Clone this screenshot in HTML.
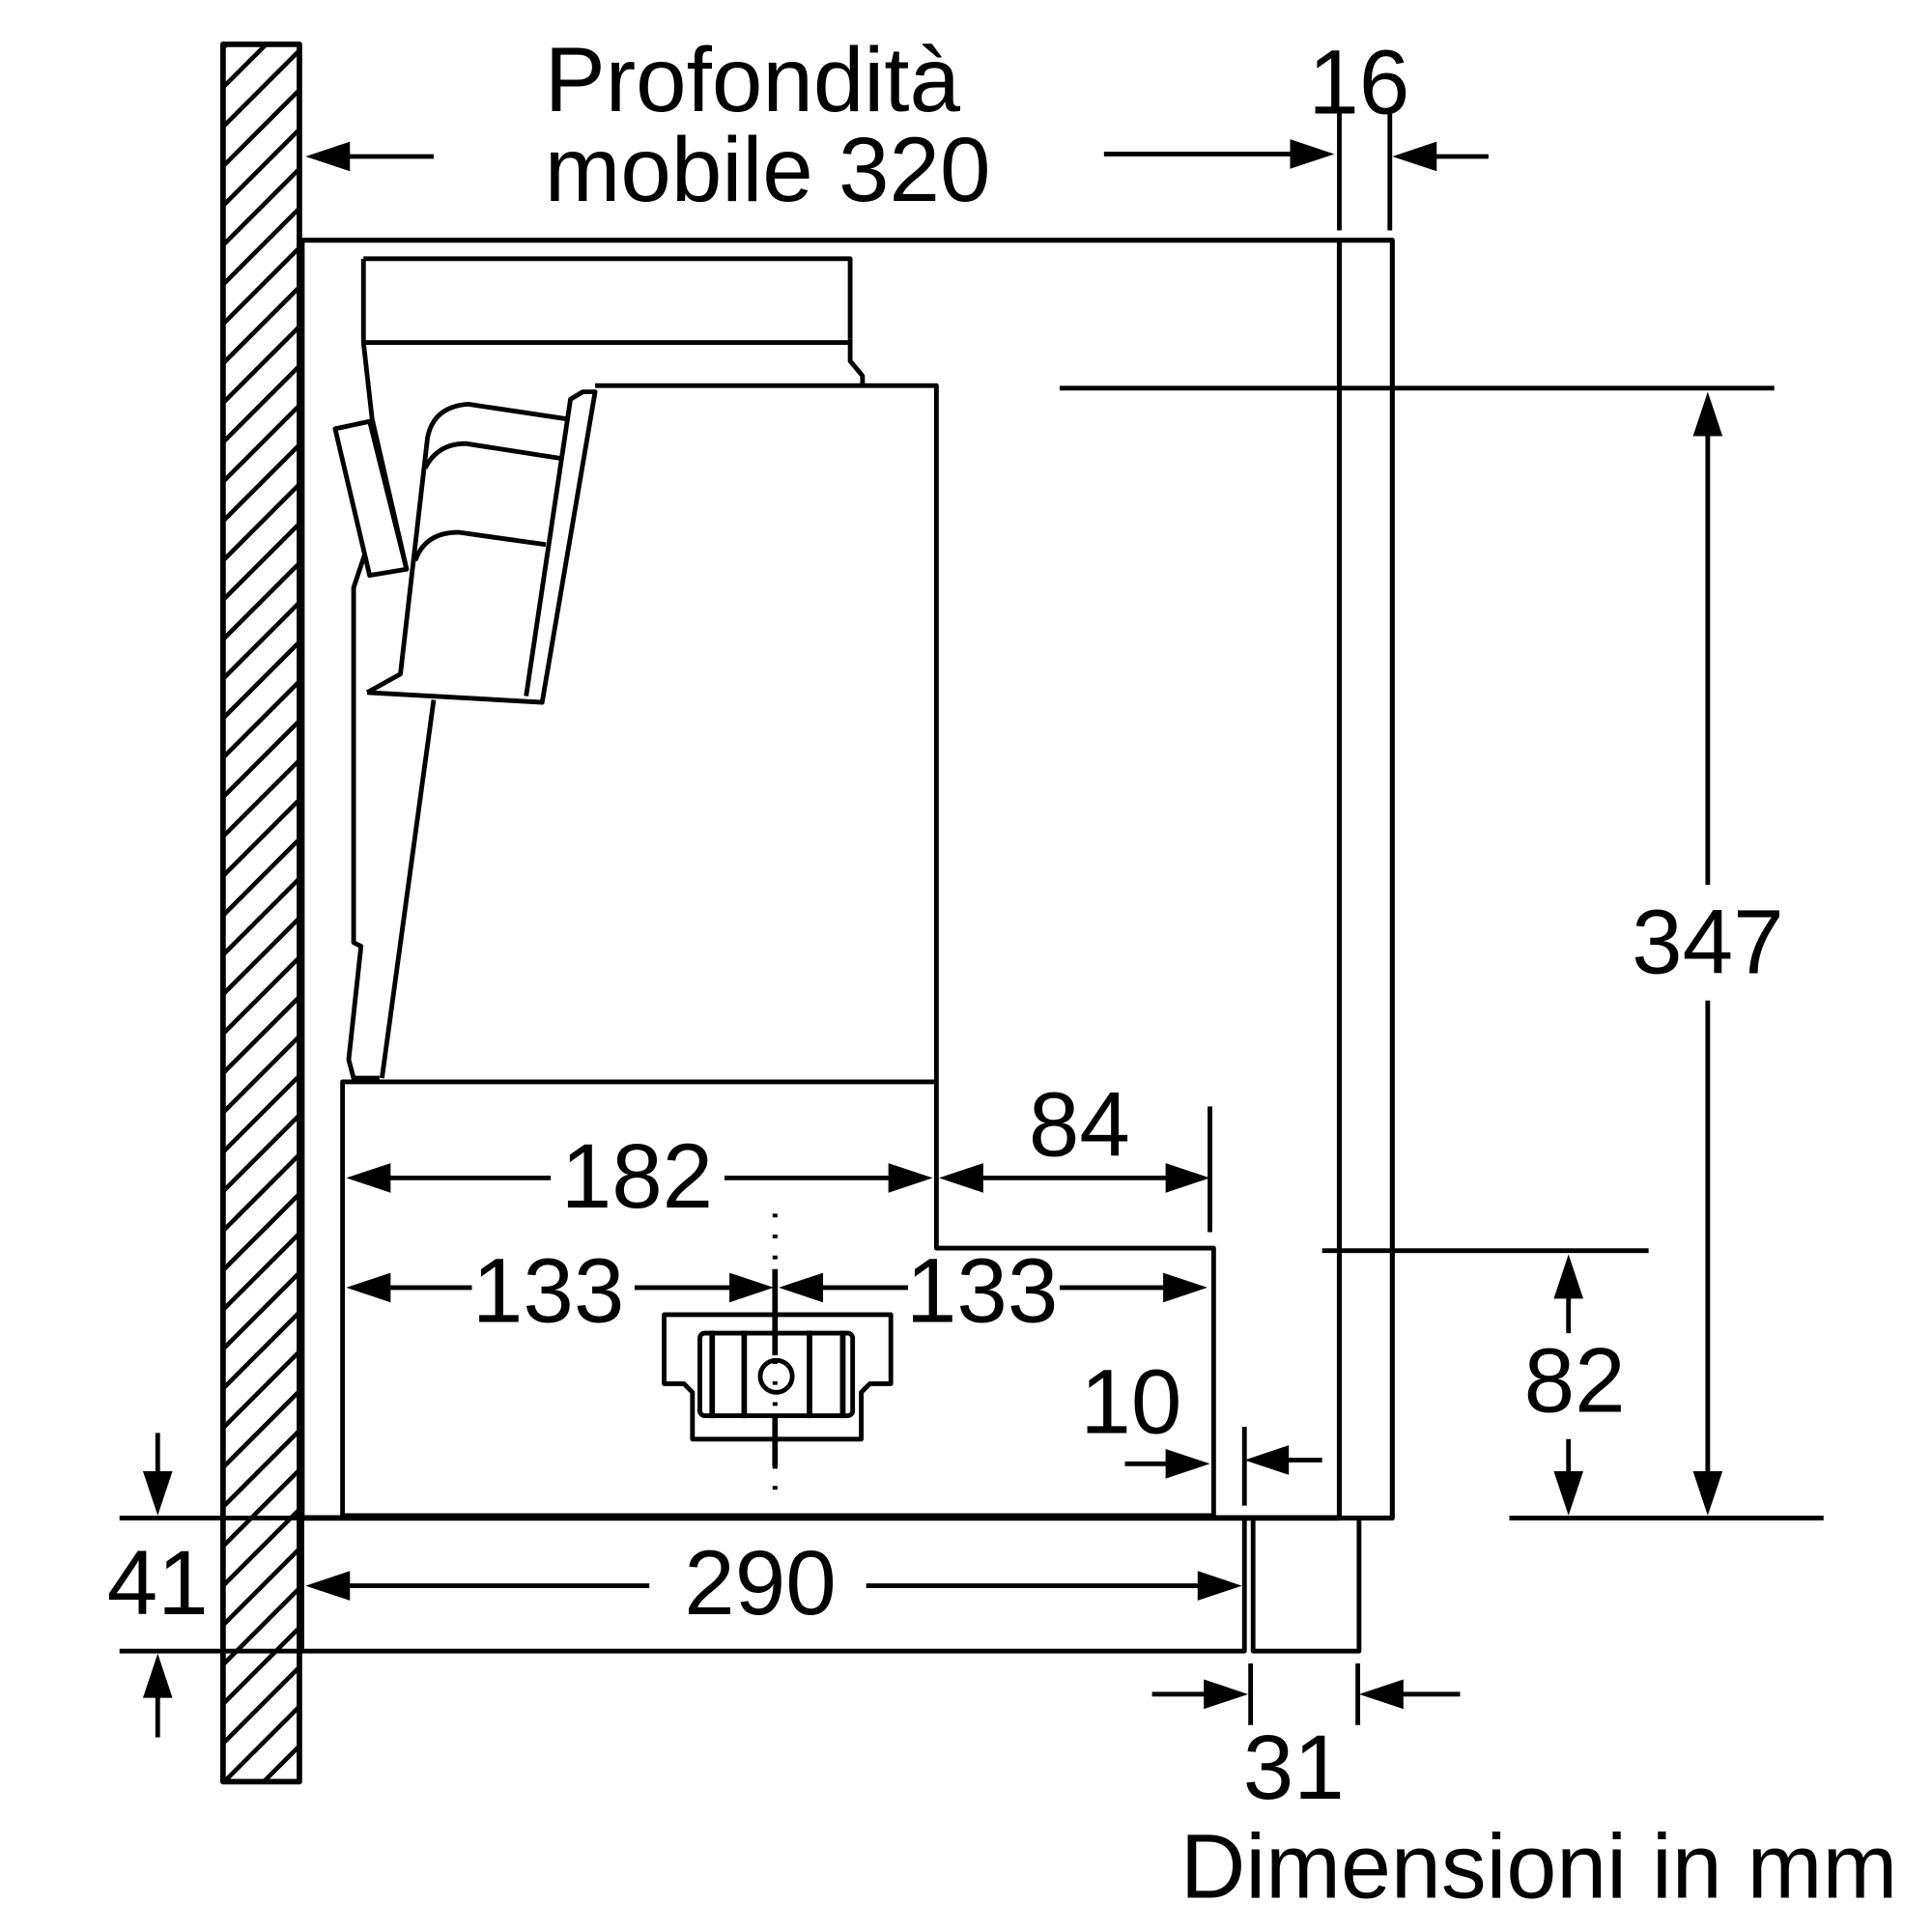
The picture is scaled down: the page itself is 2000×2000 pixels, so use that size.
<!DOCTYPE html>
<html><head><meta charset="utf-8"><style>html,body{margin:0;padding:0;background:#fff}svg{display:block}</style></head>
<body>
<svg width="2000" height="2000" viewBox="0 0 1568 1568" xmlns="http://www.w3.org/2000/svg">
<defs>
<clipPath id="wc"><rect x="183" y="38" width="58" height="1406"/></clipPath>
</defs>
<g stroke="#000" stroke-width="3.6" clip-path="url(#wc)">
<path d="M150,70 L260,-40 M150,102 L260,-8 M150,134 L260,24 M150,166 L260,56 M150,198 L260,88 M150,230 L260,120 M150,262 L260,152 M150,294 L260,184 M150,326 L260,216 M150,358 L260,248 M150,390 L260,280 M150,422 L260,312 M150,454 L260,344 M150,486 L260,376 M150,518 L260,408 M150,550 L260,440 M150,582 L260,472 M150,614 L260,504 M150,646 L260,536 M150,678 L260,568 M150,710 L260,600 M150,742 L260,632 M150,774 L260,664 M150,806 L260,696 M150,838 L260,728 M150,870 L260,760 M150,902 L260,792 M150,934 L260,824 M150,966 L260,856 M150,998 L260,888 M150,1030 L260,920 M150,1062 L260,952 M150,1094 L260,984 M150,1126 L260,1016 M150,1158 L260,1048 M150,1190 L260,1080 M150,1222 L260,1112 M150,1254 L260,1144 M150,1286 L260,1176 M150,1318 L260,1208 M150,1350 L260,1240 M150,1382 L260,1272 M150,1414 L260,1304 M150,1446 L260,1336 M150,1478 L260,1368 M150,1510 L260,1400 M150,1542 L260,1432"/>
</g>
<g fill="none" stroke="#000" stroke-width="3.8" stroke-linejoin="round">
<rect x="181" y="36" width="62" height="1410" stroke-width="4.5"/>
<path d="M245,195 H1130 V1232 H1087 V195" stroke-width="4"/>
<path d="M245,195 V1232 H1087" stroke-width="4.5"/>
<rect x="245" y="1232" width="765" height="108"/>
<rect x="1017" y="1232" width="86" height="108"/>
<path d="M295,210 H690 V275 M295,210 V278 H690"/>
<path d="M690,275 V293 L700,305 V313"/>
<path d="M483,313 H760 V1013 H985 V1230 H278 V878 H760"/>
<path d="M295,278 L302,340 L330,462"/>
<path d="M272,348 L300,342 L330,462 L300,467 Z"/>
<path d="M296,450 L287,477 V765 L293,768 L283,860 L287,875 H308"/>
<path d="M352,568 L310,875"/>
<path d="M298,562 L325,547 L347,355 Q352,330 380,328 L460,340"/>
<path d="M345,380 Q355,360 378,360 L455,372"/>
<path d="M337,455 Q345,432 372,432 L443,442"/>
<path d="M298,562 L440,570 L483,318 L473,318 L463,324 L427,565"/>
<path d="M539,1067 H723 V1123 H706 L699,1130 V1168 H562 V1130 L555,1123 H539 Z"/>
<rect x="568" y="1082" width="124" height="67" rx="4"/>
<g stroke-width="4.5"><path d="M578,1080 V1151 M604,1080 V1151 M657,1080 V1151 M684,1080 V1151"/></g>
<circle cx="630" cy="1117" r="13"/>
<path d="M280,127 H352 M896,125 H1050 M1165,127 H1208 M1087,90 V187 M1128,90 V187"/>
<path d="M860,315 H1440 M1225,1232 H1480 M1386,352 V718 M1386,812 V1196"/>
<path d="M1073,1015 H1338 M1273,1052 V1082 M1273,1168 V1196"/>
<path d="M315,956 H447 M588,956 H722 M797,956 H948 M982,898 V1000"/>
<path d="M315,1045 H383 M515,1045 H594 M667,1045 H737 M860,1045 H946"/>
<path d="M629,985 V1212" stroke-dasharray="3,14" stroke-width="4"/>
<path d="M629,1030 V1100 M629,1150 V1190" stroke-width="4.5"/>
<path d="M913,1188 H948 M1044,1185 H1073 M1010,1158 V1222"/>
<path d="M282,1287 H527 M703,1287 H974"/>
<path d="M97,1232 H245 M97,1340 H245 M128,1163 V1196 M128,1377 V1410"/>
<path d="M935,1375 H979 M1137,1375 H1185 M1015,1350 V1400 M1102,1350 V1400"/>
</g>
<g fill="#000">
<polygon points="248,127 284,115 284,139"/>
<polygon points="1083,125 1047,113 1047,137"/>
<polygon points="1130,127 1166,115 1166,139"/>
<polygon points="1386,318 1374,354 1398,354"/>
<polygon points="1386,1230 1374,1194 1398,1194"/>
<polygon points="1273,1018 1261,1054 1285,1054"/>
<polygon points="1273,1230 1261,1194 1285,1194"/>
<polygon points="281,956 317,944 317,968"/>
<polygon points="757,956 721,944 721,968"/>
<polygon points="762,956 798,944 798,968"/>
<polygon points="982,956 946,944 946,968"/>
<polygon points="281,1045 317,1033 317,1057"/>
<polygon points="628,1045 592,1033 592,1057"/>
<polygon points="632,1045 668,1033 668,1057"/>
<polygon points="980,1045 944,1033 944,1057"/>
<polygon points="982,1188 946,1176 946,1200"/>
<polygon points="1010,1185 1046,1173 1046,1197"/>
<polygon points="248,1287 284,1275 284,1299"/>
<polygon points="1008,1287 972,1275 972,1299"/>
<polygon points="128,1230 116,1194 140,1194"/>
<polygon points="128,1342 116,1378 140,1378"/>
<polygon points="1013,1375 977,1363 977,1387"/>
<polygon points="1103,1375 1139,1363 1139,1387"/>
</g>
<g font-family="Liberation Sans, sans-serif" font-size="74" fill="#000">
<text x="442" y="90">Profondità</text>
<text x="442" y="163">mobile 320</text>
<text x="1103" y="92" text-anchor="middle">16</text>
<text x="1386" y="790" text-anchor="middle">347</text>
<text x="1278" y="1146" text-anchor="middle">82</text>
<text x="517" y="980" text-anchor="middle">182</text>
<text x="876" y="938" text-anchor="middle">84</text>
<text x="445" y="1073" text-anchor="middle">133</text>
<text x="797" y="1073" text-anchor="middle">133</text>
<text x="918" y="1163" text-anchor="middle">10</text>
<text x="617" y="1310" text-anchor="middle">290</text>
<text x="128" y="1310" text-anchor="middle">41</text>
<text x="1050" y="1460" text-anchor="middle">31</text>
<text x="958" y="1540" font-size="74" textLength="582" lengthAdjust="spacingAndGlyphs">Dimensioni in mm</text>
</g>
</svg>
</body></html>
